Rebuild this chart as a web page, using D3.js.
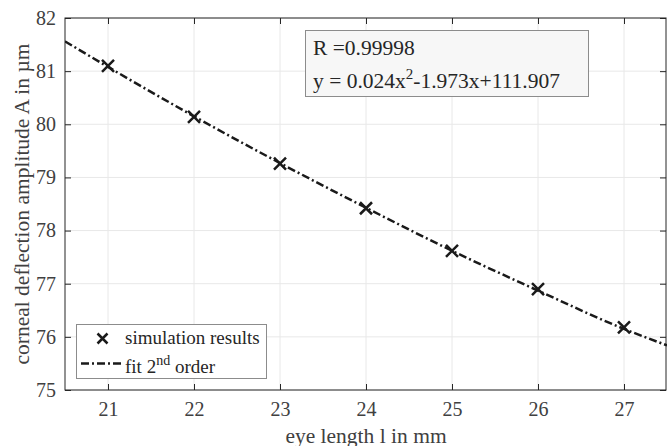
<!DOCTYPE html>
<html>
<head>
<meta charset="utf-8">
<script src="https://cdn.jsdelivr.net/npm/d3@7"></script>
<style>
  body { margin: 0; background: #fff; }
  svg text { font-family: "Liberation Serif", serif; }
</style>
</head>
<body>
<div id="chart"></div>
<script>
// simulation results
const eyeLength = [21, 22, 23, 24, 25, 26, 27];
const amplitude = [81.10, 80.14, 79.26, 78.42, 77.62, 76.90, 76.18];

// 2nd order fit curve
const fitX = [20.5, 21, 22, 23, 24, 25, 26, 27, 27.5];
const fitY = [81.56, 81.08, 80.15, 79.27, 78.43, 77.62, 76.87, 76.15, 75.84];

const xTicks = [21, 22, 23, 24, 25, 26, 27];
const yTicks = [75, 76, 77, 78, 79, 80, 81, 82];

const width = 667;
const height = 446;
const margin = { top: 18, right: 0, bottom: 56, left: 65 };
const serif = "Liberation Serif, serif";

const svg = d3.select("#chart")
  .append("svg")
  .attr("width", width)
  .attr("height", height)
  .attr("font-family", serif);

const x = d3.scaleLinear()
  .domain([20.5, 27.5])
  .range([margin.left, width - margin.right]);

const y = d3.scaleLinear()
  .domain([75, 82])
  .range([height - margin.bottom, margin.top]);

const x0 = x.range()[0], x1 = x.range()[1];
const y0 = y.range()[0], y1 = y.range()[1];

// grid
svg.append("g")
  .selectAll("line")
  .data(xTicks)
  .join("line")
  .attr("x1", d => x(d)).attr("x2", d => x(d))
  .attr("y1", y1).attr("y2", y0)
  .attr("stroke", "#e8e8e8").attr("stroke-width", 1);

svg.append("g")
  .selectAll("line")
  .data(yTicks)
  .join("line")
  .attr("x1", x0).attr("x2", x1)
  .attr("y1", d => y(d)).attr("y2", d => y(d))
  .attr("stroke", "#e8e8e8").attr("stroke-width", 1);

// axes (ticks inward, box all round)
const axisColor = "#262626";
function styleAxis(g) {
  g.attr("font-family", serif).attr("font-size", 20);
  g.select(".domain").remove();
  g.selectAll(".tick line").attr("stroke", axisColor);
  g.selectAll(".tick text").attr("fill", "#404040");
}

svg.append("g")
  .attr("transform", `translate(0,${y0})`)
  .call(d3.axisBottom(x).tickValues(xTicks).tickFormat(d3.format("d")).tickSize(-6).tickPadding(12))
  .call(styleAxis);

svg.append("g")
  .attr("transform", `translate(0,${y1})`)
  .call(d3.axisTop(x).tickValues(xTicks).tickSize(-6).tickFormat(""))
  .call(styleAxis);

svg.append("g")
  .attr("transform", `translate(${x0},0)`)
  .call(d3.axisLeft(y).tickValues(yTicks).tickFormat(d3.format("d")).tickSize(-6).tickPadding(9))
  .call(styleAxis);

svg.append("g")
  .attr("transform", `translate(${x1 - 1},0)`)
  .call(d3.axisRight(y).tickValues(yTicks).tickSize(-6).tickFormat(""))
  .call(styleAxis);

svg.append("rect")
  .attr("x", x0).attr("y", y1)
  .attr("width", x1 - x0 - 1).attr("height", y0 - y1)
  .attr("fill", "none")
  .attr("stroke", axisColor).attr("stroke-width", 1);

// fit line
const dash = "8,3,2,3";
svg.append("clipPath").attr("id", "clip")
  .append("rect").attr("x", x0).attr("y", y1)
  .attr("width", x1 - x0).attr("height", y0 - y1);

svg.append("path")
  .datum(fitX.map((d, i) => [d, fitY[i]]))
  .attr("clip-path", "url(#clip)")
  .attr("fill", "none")
  .attr("stroke", "#1a1a1a")
  .attr("stroke-width", 2.5)
  .attr("stroke-dasharray", dash)
  .attr("d", d3.line().x(d => x(d[0])).y(d => y(d[1])).curve(d3.curveMonotoneX));

// markers
const cross = s => `M${-s},${-s}L${s},${s}M${-s},${s}L${s},${-s}`;
svg.append("g")
  .selectAll("path")
  .data(eyeLength.map((d, i) => [d, amplitude[i]]))
  .join("path")
  .attr("transform", d => `translate(${x(d[0])},${y(d[1])})`)
  .attr("d", cross(6))
  .attr("fill", "none")
  .attr("stroke", "#1a1a1a")
  .attr("stroke-width", 2.5);

// axis labels
svg.append("text")
  .attr("x", (x0 + x1) / 2)
  .attr("y", 443)
  .attr("text-anchor", "middle")
  .attr("fill", "#404040")
  .attr("font-size", 21.5)
  .text("eye length l in mm");

svg.append("text")
  .attr("transform", `translate(29,${(y0 + y1) / 2}) rotate(-90)`)
  .attr("text-anchor", "middle")
  .attr("fill", "#404040")
  .attr("font-size", 21.5)
  .text("corneal deflection amplitude A in µm");

// annotation box
const note = svg.append("g").attr("font-size", 21.5).attr("fill", "#262626");
note.append("rect")
  .attr("x", 305.5).attr("y", 30.5)
  .attr("width", 283).attr("height", 66)
  .attr("fill", "#f7f7f7")
  .attr("stroke", "#8c8c8c").attr("stroke-width", 1);
note.append("text")
  .attr("x", 313).attr("y", 54.5)
  .text("R =0.99998");
const eq = note.append("text")
  .attr("x", 313).attr("y", 88);
eq.append("tspan").text("y = 0.024x");
eq.append("tspan").attr("dy", -9).attr("font-size", 15).text("2");
eq.append("tspan").attr("dy", 9).text("-1.973x+111.907");

// legend
const legend = svg.append("g").attr("font-size", 19).attr("fill", "#262626");
legend.append("rect")
  .attr("x", 76.5).attr("y", 324.5)
  .attr("width", 190).attr("height", 54)
  .attr("fill", "#fff")
  .attr("stroke", "#8c8c8c").attr("stroke-width", 1);
legend.append("path")
  .attr("transform", "translate(102.5,338.5)")
  .attr("d", cross(5))
  .attr("fill", "none")
  .attr("stroke", "#1a1a1a")
  .attr("stroke-width", 2.5);
legend.append("text")
  .attr("x", 125).attr("y", 344)
  .text("simulation results");
legend.append("line")
  .attr("x1", 81).attr("x2", 122)
  .attr("y1", 363.5).attr("y2", 363.5)
  .attr("stroke", "#1a1a1a")
  .attr("stroke-width", 2.5)
  .attr("stroke-dasharray", dash);
const fitLabel = legend.append("text")
  .attr("x", 125).attr("y", 373);
fitLabel.append("tspan").text("fit 2");
fitLabel.append("tspan").attr("dy", -8).attr("font-size", 14).text("nd");
fitLabel.append("tspan").attr("dy", 8).text(" order");
</script>
</body>
</html>
